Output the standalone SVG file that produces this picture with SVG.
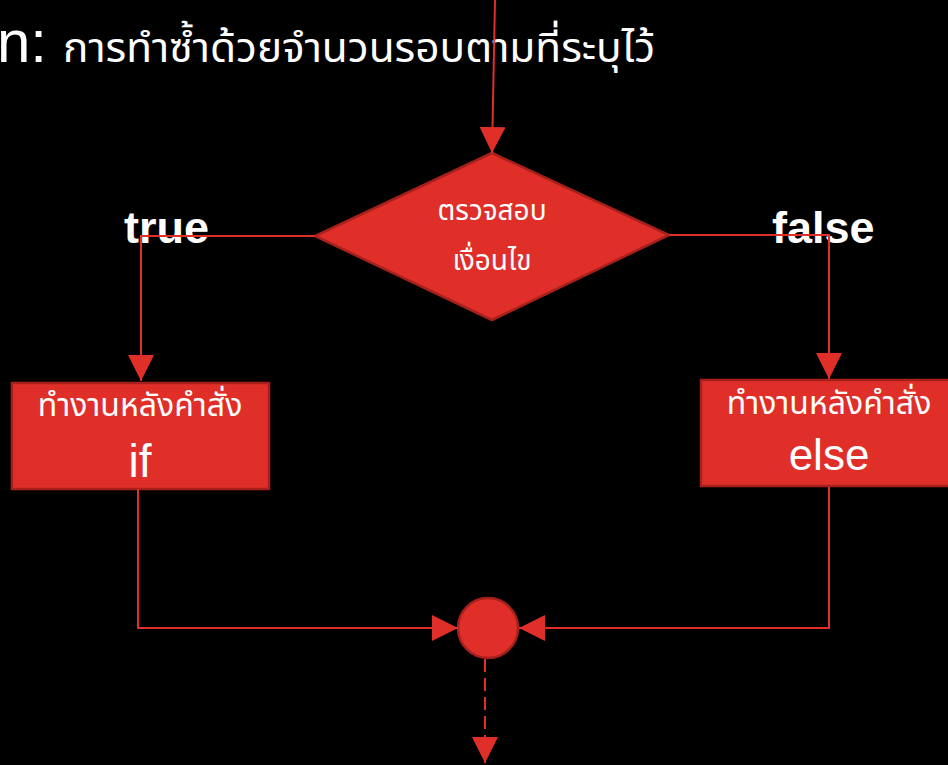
<svg xmlns="http://www.w3.org/2000/svg" width="948" height="765" viewBox="0 0 948 765">
<style>
.shape{fill:#E02F29;stroke:#A8201C;stroke-width:2.5}
.line{fill:none;stroke:#E02F29;stroke-width:2}
.thai{font-family:"Noto Sans Thai","Noto Sans","DejaVu Sans",sans-serif;fill:#ffffff}
.lat{font-family:"Liberation Sans",Arial,sans-serif;fill:#ffffff}
.lbl{font-family:"Liberation Sans",Arial,sans-serif;font-weight:bold;fill:#ffffff;font-size:45px}
</style>
<defs>
<marker id="ah" markerUnits="userSpaceOnUse" markerWidth="27" markerHeight="27" refX="26" refY="13" orient="auto" viewBox="0 0 27 27">
<path d="M0,0 L26,13 L0,26 z" fill="#E02F29"/>
</marker>
</defs>
<rect x="0" y="0" width="948" height="765" fill="#000000"/>
<g id="title">
<text class="lat" x="-3" y="62" font-size="60">n:</text>
<text class="thai" x="63" y="62" font-size="41" textLength="592" lengthAdjust="spacingAndGlyphs">การทำซ้ำด้วยจำนวนรอบตามที่ระบุไว้</text>
</g>
<g id="labels">
<text class="lbl" x="124" y="243">true</text>
<text class="lbl" x="772" y="243">false</text>
</g>
<g id="decision">
<polygon class="shape" points="492,153 669,235 492,320 315,236"/>
<text class="thai" x="492" y="220" font-size="28" text-anchor="middle">ตรวจสอบ</text>
<text class="thai" x="492" y="270" font-size="28" text-anchor="middle">เงื่อนไข</text>
</g>
<g id="if-box">
<rect class="shape" x="12" y="383" width="257" height="106"/>
<text class="thai" x="140" y="416" font-size="32" text-anchor="middle">ทำงานหลังคำสั่ง</text>
<text class="lat" x="140" y="477" font-size="46" text-anchor="middle">if</text>
</g>
<g id="else-box">
<rect class="shape" x="701" y="380" width="258" height="106"/>
<text class="thai" x="829" y="414" font-size="32" text-anchor="middle">ทำงานหลังคำสั่ง</text>
<text class="lat" x="829" y="470" font-size="44" text-anchor="middle">else</text>
</g>
<g id="join">
<circle class="shape" cx="488" cy="628" r="30"/>
</g>
<g id="connectors">
<path class="line" d="M495,0 L492,153" marker-end="url(#ah)"/>
<path class="line" d="M315,236 L141,236 L141,381" marker-end="url(#ah)"/>
<path class="line" d="M669,235 L829,235 L829,379" marker-end="url(#ah)"/>
<path class="line" d="M138,489 L138,628 L458,628" marker-end="url(#ah)"/>
<path class="line" d="M829,487 L829,628 L519,628" marker-end="url(#ah)"/>
<path class="line" d="M485,659 L485,763" stroke-dasharray="13,6" marker-end="url(#ah)"/>
</g>
</svg>
